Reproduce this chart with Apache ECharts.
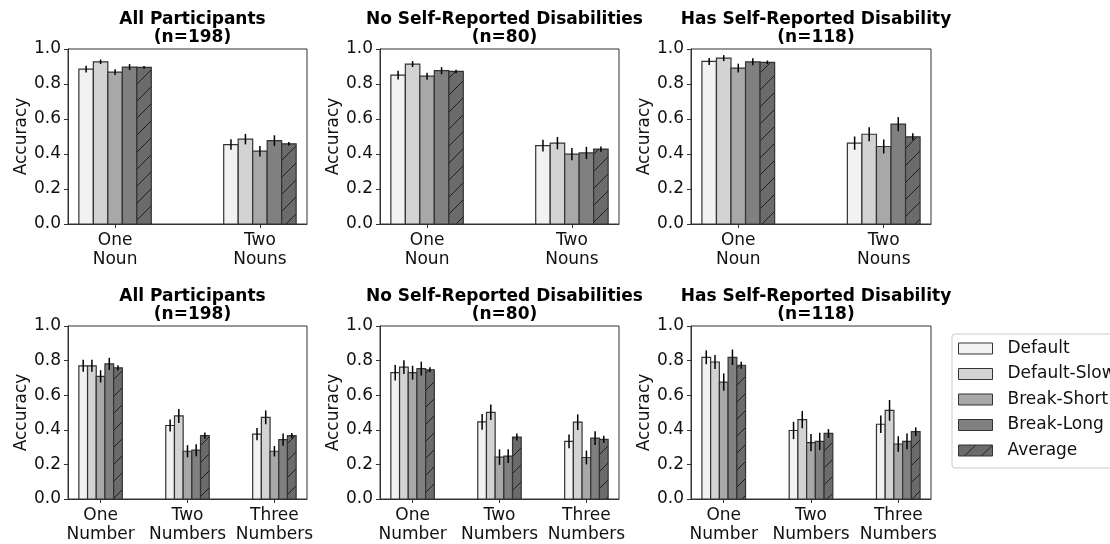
<!DOCTYPE html>
<html>
<head>
<meta charset="utf-8">
<script src="https://cdn.jsdelivr.net/npm/echarts@6/dist/echarts.min.js"></script>
<style>
  html, body { margin: 0; padding: 0; background: #fff; }
  #chart { width: 1110px; height: 544px; }
</style>
</head>
<body>
<div id="chart"></div>
<script>
// Conditions (one bar each per group) and their fills
const conditions = ['Default', 'Default-Slow', 'Break-Short', 'Break-Long', 'Average'];
const fills = ['#f2f2f2', '#d3d3d3', '#a8a8a8', '#808080', '#6b6b6b'];

// Category labels
const nounCategories = ['One\nNoun', 'Two\nNouns'];
const numberCategories = ['One\nNumber', 'Two\nNumbers', 'Three\nNumbers'];

// Panel titles
const panelTitles = [
  'All Participants\n(n=198)',
  'No Self-Reported Disabilities\n(n=80)',
  'Has Self-Reported Disability\n(n=118)'
];

// Y axis ticks
const yTicks = [0, 0.2, 0.4, 0.6, 0.8, 1.0];

// Mean accuracy, rows = condition, columns = category
const nounAllMean = [[0.885, 0.454], [0.927, 0.485], [0.868, 0.416], [0.897, 0.477], [0.895, 0.458]];
const nounNoneMean = [[0.851, 0.448], [0.914, 0.462], [0.845, 0.399], [0.876, 0.406], [0.872, 0.428]];
const nounHasMean = [[0.929, 0.462], [0.948, 0.513], [0.891, 0.443], [0.927, 0.571], [0.924, 0.498]];
const numberAllMean = [[0.770, 0.425, 0.375], [0.770, 0.480, 0.472], [0.709, 0.276, 0.276], [0.781, 0.282, 0.343], [0.758, 0.366, 0.366]];
const numberNoneMean = [[0.730, 0.446, 0.333], [0.762, 0.501, 0.444], [0.730, 0.242, 0.240], [0.754, 0.248, 0.352], [0.747, 0.358, 0.345]];
const numberHasMean = [[0.819, 0.396, 0.432], [0.792, 0.459, 0.512], [0.676, 0.326, 0.318], [0.819, 0.333, 0.333], [0.773, 0.379, 0.389]];

// Standard error, same layout as the means
const nounAllErr = [[0.019, 0.030], [0.013, 0.030], [0.017, 0.030], [0.017, 0.030], [0.008, 0.010]];
const nounNoneErr = [[0.025, 0.033], [0.017, 0.035], [0.020, 0.035], [0.020, 0.035], [0.010, 0.015]];
const nounHasErr = [[0.020, 0.038], [0.017, 0.040], [0.025, 0.040], [0.020, 0.040], [0.010, 0.020]];
const numberAllErr = [[0.035, 0.035, 0.035], [0.035, 0.040, 0.040], [0.035, 0.035, 0.030], [0.035, 0.035, 0.035], [0.015, 0.018, 0.015]];
const numberNoneErr = [[0.045, 0.045, 0.040], [0.040, 0.045, 0.045], [0.040, 0.045, 0.040], [0.040, 0.040, 0.040], [0.015, 0.020, 0.020]];
const numberHasErr = [[0.040, 0.050, 0.050], [0.040, 0.050, 0.060], [0.050, 0.050, 0.045], [0.045, 0.050, 0.045], [0.020, 0.025, 0.025]];

const panels = [
  { cats: nounCategories, mean: nounAllMean, err: nounAllErr, title: panelTitles[0], rect: [68, 49, 239, 175] },
  { cats: nounCategories, mean: nounNoneMean, err: nounNoneErr, title: panelTitles[1], rect: [380, 49, 239, 175] },
  { cats: nounCategories, mean: nounHasMean, err: nounHasErr, title: panelTitles[2], rect: [691, 49, 240, 175] },
  { cats: numberCategories, mean: numberAllMean, err: numberAllErr, title: panelTitles[0], rect: [68, 326, 239, 175] },
  { cats: numberCategories, mean: numberNoneMean, err: numberNoneErr, title: panelTitles[1], rect: [380, 326, 239, 175] },
  { cats: numberCategories, mean: numberHasMean, err: numberHasErr, title: panelTitles[2], rect: [691, 326, 240, 175] }
];

const FONT = 'DejaVu Sans';
const FS = 17;
const BAR_W = 0.1;
const EDGE = '#333333';

// Diagonal "/" hatch for the Average bars
function makeHatch(bg) {
  const s = 17;
  const c = document.createElement('canvas');
  c.width = s; c.height = s;
  const ctx = c.getContext('2d');
  ctx.fillStyle = bg;
  ctx.fillRect(0, 0, s, s);
  ctx.strokeStyle = '#1e1e1e';
  ctx.lineWidth = 1;
  for (const off of [-s, 0, s]) {
    ctx.beginPath();
    ctx.moveTo(off, s);
    ctx.lineTo(off + s, 0);
    ctx.stroke();
  }
  return { image: c, repeat: 'repeat' };
}
const hatch = makeHatch(fills[4]);
const fillFor = k => (k === 4 ? hatch : fills[k]);

function barRenderer(k) {
  return function (params, api) {
    const x = api.value(0) + (k - 2) * BAR_W;
    const v = api.value(1);
    const e = api.value(2);
    const a = api.coord([x - BAR_W / 2, 0]);
    const b = api.coord([x + BAR_W / 2, v]);
    const lo = api.coord([x, v - e]);
    const hi = api.coord([x, v + e]);
    return {
      type: 'group',
      children: [
        {
          type: 'rect',
          shape: { x: a[0], y: b[1], width: b[0] - a[0], height: a[1] - b[1] },
          style: { fill: fillFor(k), stroke: EDGE, lineWidth: 1.2 }
        },
        {
          type: 'line',
          shape: { x1: lo[0], y1: lo[1], x2: hi[0], y2: hi[1] },
          style: { stroke: '#000', lineWidth: 1.5 }
        }
      ]
    };
  };
}

const grids = [], xAxes = [], yAxes = [], series = [], titles = [];

panels.forEach((p, i) => {
  const [left, top, width, height] = p.rect;
  const n = p.cats.length;
  const pad = 0.05 * (n - 1 + 0.5);
  grids.push({ left, top, width, height, show: true, borderColor: EDGE, borderWidth: 1, backgroundColor: 'transparent' });
  const catIdx = p.cats.map((_, j) => j);
  xAxes.push({
    type: 'value', gridIndex: i,
    min: -0.25 - pad, max: n - 1 + 0.25 + pad,
    splitLine: { show: false },
    axisLine: { show: true, onZero: false, lineStyle: { color: EDGE, width: 1 } },
    axisTick: { show: true, customValues: catIdx, length: 4, lineStyle: { color: EDGE } },
    axisLabel: {
      customValues: catIdx, margin: 7,
      formatter: v => p.cats[Math.round(v)],
      fontFamily: FONT, fontSize: FS, lineHeight: 19, color: '#111'
    }
  });
  yAxes.push({
    type: 'value', gridIndex: i, min: 0, max: 1, interval: 0.2,
    name: 'Accuracy', nameLocation: 'middle', nameGap: 38, nameRotate: 90,
    nameTextStyle: { fontFamily: FONT, fontSize: FS, color: '#111' },
    splitLine: { show: false },
    axisLine: { show: true, onZero: false, lineStyle: { color: EDGE, width: 1 } },
    axisTick: { show: true, length: 4, lineStyle: { color: EDGE } },
    axisLabel: {
      margin: 7, fontFamily: FONT, fontSize: FS, color: '#111',
      formatter: v => (yTicks.some(t => Math.abs(t - v) < 1e-9) ? v.toFixed(1) : '')
    }
  });
  titles.push({
    text: p.title,
    left: left + width / 2, top: top - 43, textAlign: 'center',
    textStyle: { fontFamily: FONT, fontSize: FS, fontWeight: 'bold', lineHeight: 18, color: '#000' }
  });
  conditions.forEach((name, k) => {
    series.push({
      type: 'custom', name,
      xAxisIndex: i, yAxisIndex: i,
      itemStyle: { color: fillFor(k), borderColor: EDGE, borderWidth: 1 },
      renderItem: barRenderer(k),
      encode: { x: 0, y: 1 },
      data: p.mean[k].map((v, j) => [j, v, p.err[k][j]]),
      silent: true
    });
  });
});

const chart = echarts.init(document.getElementById('chart'), null, { renderer: 'canvas' });
chart.setOption({
  animation: false,
  backgroundColor: '#fff',
  title: titles,
  grid: grids,
  xAxis: xAxes,
  yAxis: yAxes,
  legend: {
    orient: 'vertical', left: 952, top: 334,
    padding: [6, 30, 9, 6],
    borderColor: '#cccccc', borderWidth: 1, borderRadius: 3,
    backgroundColor: '#fff',
    icon: 'rect', itemWidth: 34, itemHeight: 11, itemGap: 8.5,
    selectedMode: false,
    textStyle: { fontFamily: FONT, fontSize: FS, lineHeight: 17, color: '#111', padding: [0, 0, 0, 10] },
    data: conditions.map((name, k) => ({
      name,
      itemStyle: { color: fillFor(k), borderColor: EDGE, borderWidth: 1 }
    }))
  },
  series
});
</script>
</body>
</html>
